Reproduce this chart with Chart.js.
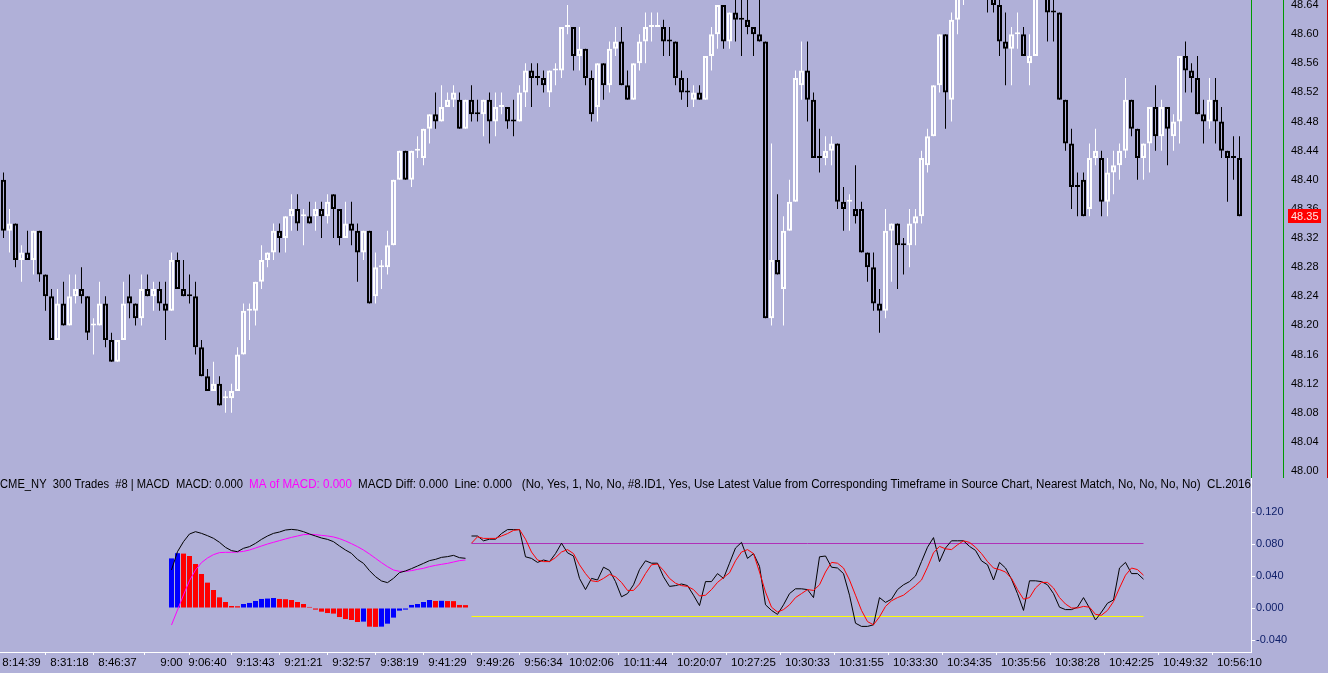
<!DOCTYPE html>
<html><head><meta charset="utf-8">
<script src="https://cdn.jsdelivr.net/npm/chart.js@4/dist/chart.umd.min.js"></script>
<style>
html,body{margin:0;padding:0;background:#b0b0d8;width:1328px;height:673px;overflow:hidden;}
#w1{position:absolute;left:0;top:0;width:1328px;height:478px;}
#w2{position:absolute;left:0;top:478px;width:1328px;height:195px;}
canvas{display:block;}
</style></head><body>
<div id="w1"><canvas id="c1" width="1328" height="478"></canvas></div>
<div id="w2"><canvas id="c2" width="1328" height="195"></canvas></div>
<script>
// ---------- DATA ----------
const opens = [
48.40,48.33,48.34,48.29,48.30,48.29,48.33,48.27,48.24,48.18,
48.23,48.20,48.24,48.25,48.24,48.20,48.20,48.23,48.18,48.15,
48.18,48.24,48.23,48.21,48.25,48.24,48.25,48.23,48.22,48.29,
48.25,48.24,48.24,48.17,48.13,48.11,48.12,48.10,48.10,48.11,
48.16,48.22,48.22,48.26,48.29,48.30,48.33,48.32,48.35,48.36,
48.35,48.35,48.35,48.36,48.35,48.38,48.36,48.32,48.34,48.33,
48.30,48.33,48.24,48.28,48.28,48.31,48.40,48.44,48.40,48.44,
48.43,48.47,48.49,48.48,48.50,48.51,48.51,48.47,48.51,48.49,
48.49,48.51,48.48,48.50,48.50,48.48,48.48,48.52,48.55,48.54,
48.54,48.52,48.55,48.55,48.61,48.61,48.57,48.58,48.54,48.50,
48.56,48.53,48.58,48.59,48.53,48.51,48.56,48.59,48.61,48.61,
48.61,48.59,48.59,48.54,48.52,48.51,48.52,48.51,48.57,48.60,
48.64,48.59,48.63,48.62,48.62,48.61,48.60,48.59,48.21,48.29,
48.25,48.33,48.37,48.53,48.55,48.51,48.43,48.43,48.44,48.45,
48.37,48.37,48.36,48.36,48.30,48.28,48.23,48.22,48.33,48.34,
48.31,48.31,48.34,48.35,48.42,48.46,48.53,48.60,48.51,48.62,
48.65,48.66,48.68,48.69,48.68,48.66,48.64,48.59,48.58,48.60,
48.60,48.56,48.57,48.66,48.66,48.63,48.63,48.51,48.45,48.39,
48.40,48.36,48.43,48.43,48.37,48.41,48.42,48.44,48.51,48.47,
48.43,48.45,48.50,48.46,48.50,48.46,48.48,48.57,48.55,48.54,
48.49,48.48,48.51,48.48,48.44,48.43,48.43];
const highs = [
48.41,48.36,48.34,48.31,48.33,48.33,48.33,48.27,48.25,48.25,
48.26,48.27,48.27,48.28,48.24,48.21,48.26,48.24,48.19,48.18,
48.26,48.27,48.23,48.27,48.27,48.26,48.26,48.26,48.30,48.30,
48.29,48.27,48.26,48.18,48.14,48.15,48.13,48.11,48.12,48.17,
48.23,48.23,48.26,48.31,48.30,48.34,48.34,48.35,48.38,48.38,
48.36,48.37,48.37,48.37,48.38,48.38,48.36,48.37,48.37,48.34,
48.33,48.33,48.30,48.29,48.33,48.40,48.44,48.44,48.44,48.46,
48.47,48.49,48.52,48.53,48.52,48.53,48.52,48.51,48.53,48.51,
48.51,48.52,48.52,48.52,48.50,48.51,48.53,48.56,48.56,48.56,
48.55,48.55,48.56,48.61,48.64,48.61,48.61,48.58,48.55,48.56,
48.56,48.59,48.61,48.61,48.55,48.56,48.60,48.63,48.63,48.63,
48.62,48.61,48.59,48.55,48.54,48.53,48.53,48.57,48.61,48.64,
48.64,48.63,48.66,48.66,48.66,48.61,48.66,48.59,48.45,48.38,
48.35,48.40,48.55,48.59,48.59,48.52,48.47,48.46,48.46,48.45,
48.39,48.38,48.42,48.37,48.30,48.30,48.25,48.36,48.34,48.34,
48.32,48.36,48.36,48.44,48.47,48.53,48.60,48.60,48.63,48.66,
48.68,48.69,48.70,48.70,48.69,48.67,48.65,48.63,48.61,48.63,
48.61,48.60,48.66,48.68,48.67,48.66,48.63,48.51,48.47,48.41,
48.41,48.45,48.47,48.44,48.43,48.44,48.45,48.54,48.51,48.47,
48.45,48.50,48.53,48.51,48.50,48.49,48.57,48.59,48.56,48.57,
48.51,48.54,48.54,48.50,48.44,48.46,48.46];
const lows = [
48.32,48.30,48.28,48.26,48.29,48.27,48.26,48.22,48.18,48.18,
48.20,48.20,48.23,48.23,48.18,48.16,48.20,48.17,48.15,48.15,
48.18,48.21,48.20,48.20,48.24,48.22,48.22,48.18,48.22,48.25,
48.24,48.23,48.16,48.13,48.11,48.11,48.09,48.08,48.08,48.11,
48.16,48.18,48.20,48.25,48.28,48.29,48.30,48.30,48.33,48.33,
48.31,48.34,48.33,48.32,48.34,48.32,48.31,48.32,48.31,48.26,
48.29,48.23,48.23,48.25,48.27,48.31,48.40,48.40,48.39,48.43,
48.42,48.45,48.47,48.48,48.50,48.50,48.47,48.47,48.48,48.48,
48.46,48.45,48.46,48.49,48.47,48.46,48.48,48.50,48.50,48.53,
48.52,48.50,48.53,48.54,48.60,48.55,48.55,48.53,48.48,48.48,
48.51,48.52,48.57,48.53,48.51,48.51,48.55,48.56,48.59,48.61,
48.57,48.57,48.53,48.51,48.50,48.50,48.51,48.51,48.55,48.58,
48.58,48.58,48.59,48.57,48.60,48.57,48.59,48.21,48.20,48.27,
48.20,48.33,48.37,48.51,48.48,48.43,48.41,48.42,48.42,48.36,
48.33,48.33,48.34,48.30,48.26,48.22,48.19,48.21,48.26,48.25,
48.27,48.28,48.31,48.34,48.41,48.46,48.52,48.47,48.48,48.60,
48.64,48.66,48.66,48.67,48.63,48.63,48.57,48.53,48.53,48.58,
48.57,48.53,48.57,48.65,48.59,48.59,48.51,48.44,48.36,48.35,
48.35,48.35,48.42,48.35,48.35,48.38,48.40,48.43,48.46,48.40,
48.40,48.41,48.44,48.44,48.42,48.44,48.45,48.52,48.52,48.49,
48.45,48.47,48.45,48.43,48.37,48.40,48.35];
const closes = [
48.33,48.34,48.29,48.30,48.29,48.33,48.27,48.24,48.18,48.23,
48.20,48.24,48.25,48.24,48.19,48.20,48.23,48.18,48.15,48.18,
48.23,48.23,48.21,48.25,48.24,48.25,48.23,48.22,48.29,48.25,
48.24,48.24,48.17,48.13,48.11,48.12,48.09,48.10,48.11,48.16,
48.22,48.22,48.26,48.29,48.30,48.33,48.32,48.35,48.36,48.34,
48.35,48.34,48.36,48.35,48.37,48.36,48.32,48.34,48.33,48.30,
48.33,48.23,48.28,48.28,48.31,48.40,48.44,48.40,48.44,48.44,
48.47,48.49,48.48,48.50,48.51,48.52,48.47,48.51,48.49,48.49,
48.51,48.48,48.50,48.50,48.48,48.48,48.52,48.55,48.54,48.54,
48.53,48.55,48.55,48.61,48.61,48.57,48.58,48.54,48.49,48.56,
48.53,48.58,48.59,48.53,48.51,48.56,48.59,48.61,48.61,48.61,
48.59,48.59,48.54,48.52,48.52,48.52,48.51,48.57,48.60,48.64,
48.59,48.63,48.62,48.62,48.61,48.60,48.59,48.21,48.29,48.27,
48.33,48.37,48.54,48.55,48.51,48.43,48.43,48.44,48.45,48.37,
48.36,48.37,48.35,48.30,48.28,48.23,48.22,48.33,48.34,48.31,
48.31,48.34,48.35,48.43,48.46,48.53,48.60,48.52,48.62,48.65,
48.67,48.68,48.69,48.68,48.66,48.64,48.59,48.58,48.60,48.60,
48.57,48.57,48.66,48.67,48.63,48.63,48.51,48.45,48.39,48.39,
48.35,48.43,48.44,48.37,48.41,48.42,48.44,48.51,48.47,48.43,
48.45,48.50,48.46,48.50,48.47,48.48,48.57,48.55,48.54,48.49,
48.48,48.51,48.48,48.44,48.43,48.43,48.35];

const priceTicks = [48.00,48.04,48.08,48.12,48.16,48.20,48.24,48.28,48.32,48.36,48.40,48.44,48.48,48.52,48.56,48.60,48.64];
const timeLabels = ["8:14:39","8:31:18","8:46:37","9:00","9:06:40","9:13:43","9:21:21","9:32:57","9:38:19","9:41:29","9:49:26","9:56:34","10:02:06","10:11:44","10:20:07","10:27:25","10:30:33","10:31:55","10:33:30","10:34:35","10:35:56","10:38:28","10:42:25","10:49:32","10:56:10"];
const timeTickBars = [3,11,19,28,34,42,50,58,66,74,82,90,98,107,116,125,134,143,152,161,170,179,188,197,206];

const macdStartBar = 28;
const macdHist = [0.062,0.0685,0.068,0.065,0.055,0.0425,0.0317,0.0225,0.0133,0.0075,
0.0025,0.0022,0.005,0.0063,0.0088,0.0113,0.0118,0.0125,0.0113,0.011,
0.01,0.0075,0.005,0.0013,-0.002,-0.0046,-0.0063,-0.007,-0.0113,-0.0138,
-0.015,-0.0175,-0.017,-0.0233,-0.0236,-0.0233,-0.0196,-0.012,-0.0033,-0.002,
0.0038,0.005,0.0075,0.01,0.0088,0.009,0.0087,0.0086,0.0038,0.0036];
const macdLine = [0.0475,0.0704,0.0829,0.0925,0.0954,0.0933,0.0904,0.0871,0.0821,0.0758,
0.0717,0.0704,0.0746,0.0767,0.0808,0.0858,0.09,0.0933,0.095,0.0975,
0.0983,0.0975,0.0954,0.0925,0.09,0.0875,0.0858,0.0829,0.0775,0.0725,
0.0683,0.0608,0.0558,0.0467,0.0392,0.0338,0.0317,0.0371,0.0442,0.0463,
0.0492,0.0525,0.0558,0.0592,0.0608,0.0633,0.0642,0.0658,0.0629,0.0621];
const macdMA = [-0.0213,-0.0025,0.0163,0.0342,0.0475,0.0567,0.0625,0.0667,0.0692,0.0696,
0.0696,0.07,0.0708,0.0725,0.075,0.0775,0.08,0.0821,0.0842,0.0863,
0.0883,0.09,0.0917,0.0921,0.0917,0.0908,0.09,0.0888,0.0867,0.0838,
0.0804,0.0767,0.0725,0.0675,0.0621,0.0567,0.0517,0.0475,0.0458,0.0458,
0.0467,0.0483,0.0496,0.0517,0.0533,0.0546,0.0558,0.0575,0.0592,0.06];

const oscStartBar = 78;
const oscLine = [0.090,0.090,0.084,0.086,0.086,0.093,0.098,0.098,0.098,0.064,
0.062,0.057,0.060,0.058,0.068,0.081,0.069,0.065,0.037,0.023,
0.037,0.035,0.051,0.047,0.033,0.014,0.018,0.029,0.048,0.059,
0.056,0.056,0.039,0.027,0.028,0.030,0.028,0.016,0.003,0.033,
0.033,0.043,0.037,0.056,0.075,0.082,0.062,0.068,0.052,0.004,
-0.003,-0.008,0.004,0.018,0.024,0.024,0.023,0.013,0.064,0.065,
0.051,0.050,0.043,0.016,-0.019,-0.023,-0.023,-0.021,0.013,0.007,
0.011,0.023,0.029,0.033,0.040,0.058,0.076,0.088,0.058,0.075,
0.084,0.084,0.084,0.077,0.072,0.059,0.054,0.035,0.057,0.050,
0.036,0.018,-0.003,0.034,0.034,0.033,0.029,0.018,0.001,-0.002,
-0.002,0.001,0.013,0.000,-0.015,-0.005,0.006,0.010,0.050,0.057,
0.043,0.043,0.036];
const oscSignal = [0.081,0.089,0.087,0.087,0.087,0.090,0.093,0.097,0.098,0.086,
0.070,0.060,0.058,0.058,0.063,0.070,0.073,0.068,0.054,0.043,
0.034,0.033,0.037,0.042,0.039,0.032,0.022,0.022,0.030,0.043,
0.054,0.055,0.047,0.037,0.031,0.028,0.027,0.023,0.015,0.016,
0.023,0.032,0.038,0.044,0.059,0.070,0.073,0.068,0.045,0.020,
0.001,-0.005,-0.002,0.004,0.013,0.018,0.023,0.022,0.029,0.045,
0.057,0.056,0.050,0.035,0.016,-0.003,-0.017,-0.021,-0.011,0.002,
0.009,0.013,0.016,0.022,0.028,0.035,0.051,0.069,0.077,0.074,
0.073,0.079,0.084,0.082,0.076,0.068,0.058,0.050,0.048,0.045,
0.037,0.023,0.011,0.013,0.025,0.032,0.032,0.025,0.013,0.005,
0.000,0.000,0.002,0.001,-0.008,-0.009,-0.003,0.008,0.025,0.041,
0.050,0.048,0.041];
const oscUpperLevel = 0.0806;
const oscLowerLevel = -0.0106;
const oscTicks = [0.120,0.080,0.040,0.000,-0.040];

const legendParts = ["CME_NY  300 Trades  #8 | MACD  MACD: 0.000", "MA of MACD: 0.000",
 "MACD Diff: 0.000  Line: 0.000   (No, Yes, 1, No, No, #8.ID1, Yes, Use Latest Value from Corresponding Timeframe in Source Chart, Nearest Match, No, No, No, No)  CL.2016"];

// ---------- STYLE / LAYOUT ----------
const BG = '#b0b0d8';
const FONT = 'Liberation Sans';
const X_MIN = -0.58333, X_MAX = 207.91667;
const AXIS_W = 77;

const N = closes.length;
const up = [];
for (let i = 0; i < N; i++) {
  let u;
  if (closes[i] > opens[i]) u = true;
  else if (closes[i] < opens[i]) u = false;
  else if (i > 0 && closes[i] > closes[i-1]) u = true;
  else if (i > 0 && closes[i] < closes[i-1]) u = false;
  else u = i > 0 ? up[i-1] : true;
  up.push(u);
}
const candleCol = up.map(u => u ? '#ffffff' : '#000000');

const priceOverlay = {
  id: 'priceOverlay',
  afterDraw(chart) {
    const ctx = chart.ctx, ys = chart.scales.y, H = chart.height;
    ctx.save();
    ctx.fillStyle = '#009a00';
    ctx.fillRect(1283, 0, 1, H);
    ctx.fillStyle = '#c00000';
    ctx.fillRect(1327, 0, 1, H);
    const last = closes[N-1];
    const py = Math.round(ys.getPixelForValue(last));
    ctx.fillStyle = '#ff0000';
    ctx.fillRect(1288, py - 7, 33, 14);
    ctx.fillStyle = '#ffe4e4';
    ctx.font = '11px "' + FONT + '"';
    ctx.textBaseline = 'middle';
    ctx.fillText(last.toFixed(2), 1291, py + 0.5);
    ctx.restore();
  }
};

new Chart(document.getElementById('c1'), {
  type: 'bar',
  data: { datasets: [
    { label: 'body', data: opens.map((o, i) => ({x: i, y: [Math.min(o, closes[i]), Math.max(o, closes[i])]})),
      backgroundColor: BG, borderColor: candleCol, borderWidth: 2, borderSkipped: false,
      barThickness: 5, minBarLength: 2, grouped: false, inflateAmount: 0, order: 1 },
    { label: 'wick', data: highs.map((h, i) => ({x: i, y: [lows[i], h]})),
      backgroundColor: candleCol, borderWidth: 0, barThickness: 1, grouped: false, inflateAmount: 0, order: 2 }
  ]},
  options: {
    responsive: false, animation: false, events: [],
    layout: { padding: 0 },
    plugins: { legend: { display: false }, tooltip: { enabled: false } },
    scales: {
      x: { type: 'linear', min: X_MIN, max: X_MAX, display: false, offset: false, bounds: 'data' },
      y: { type: 'linear', position: 'right', min: 47.9904, max: 48.647, bounds: 'data',
        afterFit(s) { s.width = AXIS_W; s.paddingTop = 0; s.paddingBottom = 0; },
        afterBuildTicks(s) { s.ticks = priceTicks.map(v => ({value: v})); },
        grid: { drawOnChartArea: false, drawTicks: false, color: 'rgba(0,0,0,0)' },
        border: { display: true, color: '#009a00', width: 1 },
        ticks: { padding: 40, autoSkip: false, color: '#000000', font: { family: FONT, size: 11 },
          callback: v => Number(v).toFixed(2) }
      }
    }
  },
  plugins: [priceOverlay]
});

const legendPlugin = {
  id: 'legendText',
  afterDraw(chart) {
    const ctx = chart.ctx;
    const fam = '"' + FONT + '", Arial, sans-serif';
    const pieces = [
      { t: legendParts[0], x: 0, w: 243, c: '#000000' },
      { t: legendParts[1], x: 249, w: 103, c: '#ff00ff' },
      { t: legendParts[2], x: 358, w: 893, c: '#000000' }
    ];
    ctx.save();
    ctx.font = '12px ' + fam;
    ctx.textBaseline = 'middle';
    pieces.forEach(p => {
      const nat = ctx.measureText(p.t).width;
      ctx.save();
      ctx.translate(p.x, 7);
      ctx.scale(p.w / nat, 1);
      ctx.fillStyle = p.c;
      ctx.fillText(p.t, 0, 0);
      ctx.restore();
    });
    ctx.restore();
  }
};

const seq = (arr, start) => arr.map((v, i) => ({x: start + i, y: v}));
const oscEndBar = oscStartBar + oscLine.length - 1;
const lineDs = (data, color, order) => ({ type: 'line', data, borderColor: color, borderWidth: 1,
  pointRadius: 0, tension: 0, fill: false, order });

new Chart(document.getElementById('c2'), {
  type: 'bar',
  data: { datasets: [
    { type: 'bar', data: seq(macdHist, macdStartBar),
      backgroundColor: macdHist.map((v, i) => (i === 0 || v >= macdHist[i-1]) ? '#0000ff' : '#ff0000'),
      borderWidth: 0, barThickness: 5, grouped: false, inflateAmount: 0, order: 9 },
    lineDs(seq(macdMA, macdStartBar), '#ff00ff', 4),
    lineDs(seq(macdLine, macdStartBar), '#000000', 3),
    lineDs([{x: oscStartBar, y: oscUpperLevel}, {x: oscEndBar, y: oscUpperLevel}], '#b030b8', 7),
    lineDs([{x: oscStartBar, y: oscLowerLevel}, {x: oscEndBar, y: oscLowerLevel}], '#ffff00', 7),
    lineDs(seq(oscLine, oscStartBar), '#000000', 2),
    lineDs(seq(oscSignal, oscStartBar), '#ff0000', 1)
  ]},
  options: {
    responsive: false, animation: false, events: [],
    layout: { padding: 0 },
    plugins: { legend: { display: false }, tooltip: { enabled: false } },
    scales: {
      x: { type: 'linear', min: X_MIN, max: X_MAX, offset: false, position: 'bottom', bounds: 'data',
        afterFit(s) { s.height = 21; s.paddingLeft = 0; s.paddingRight = 0; },
        afterBuildTicks(s) { s.ticks = timeTickBars.map(v => ({value: v})); },
        grid: { drawOnChartArea: false, drawTicks: true, tickLength: 3, color: '#ffffff' },
        border: { display: true, color: '#ffffff', width: 1 },
        ticks: { autoSkip: false, maxRotation: 0, minRotation: 0, padding: 1, color: '#000000',
          font: { family: FONT, size: 11.5 }, callback: (v, i) => timeLabels[i] }
      },
      y: { type: 'linear', position: 'right', min: -0.055, max: 0.1625, bounds: 'data',
        afterFit(s) { s.width = AXIS_W; s.paddingTop = 0; s.paddingBottom = 0; },
        afterBuildTicks(s) { s.ticks = oscTicks.map(v => ({value: v})); },
        grid: { drawOnChartArea: false, drawTicks: true, tickLength: 4, color: '#ffffff' },
        border: { display: true, color: '#ffffff', width: 1 },
        ticks: { padding: 1, autoSkip: false, color: '#10206a', font: { family: FONT, size: 11 },
          callback: v => Number(v).toFixed(3) }
      }
    }
  },
  plugins: [legendPlugin]
});
</script>
</body></html>
